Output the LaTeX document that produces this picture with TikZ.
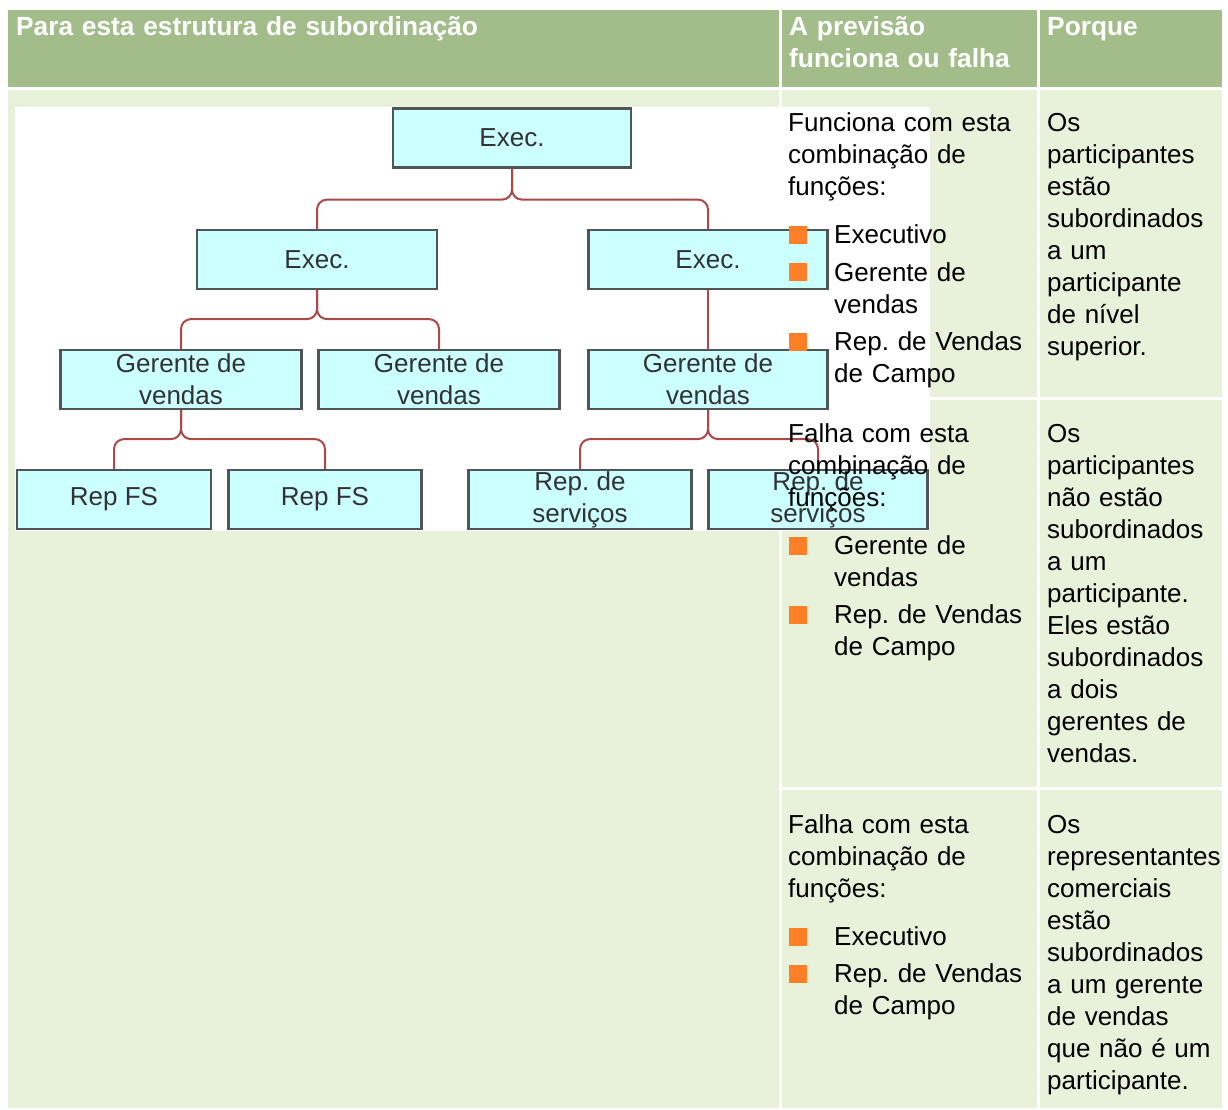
\documentclass[tikz,border=0pt]{standalone}
\usepackage{fontspec}
\setmainfont{Liberation Sans}
\frenchspacing
\definecolor{headgreen}{RGB}{162,189,137}
\definecolor{cellgreen}{RGB}{232,242,218}
\definecolor{boxcyan}{RGB}{204,255,255}
\definecolor{boxgray}{RGB}{80,85,85}
\definecolor{boxtext}{RGB}{50,50,50}
\definecolor{linkred}{RGB}{172,72,72}
\definecolor{bulletorange}{RGB}{255,127,39}

\begin{document}
\begin{tikzpicture}[x=1pt, y=-1pt,
    orgbox/.style={rectangle, draw=boxgray, line width=2.2pt, fill=boxcyan, minimum height=59pt, inner sep=0pt, align=center, text=boxtext, font=\fontsize{26}{32}\selectfont},
    headtext/.style={anchor=base west, inner sep=0pt, text width=700pt, align=left, text=white, font=\fontsize{26.3}{32}\selectfont\bfseries},
    celltext/.style={anchor=base west, inner sep=0pt, text width=260pt, align=left, font=\fontsize{26}{32}\selectfont}
    ]
    \tikzset{edge/.style={draw=linkred, line width=2pt, rounded corners=10pt}}
    \tikzset{bulletsq/.style={rectangle, fill=bulletorange, minimum size=18pt, inner sep=0pt}}
    %
    %table
    %
    \useasboundingbox[fill=white] (0,0) rectangle (1228,1109);
    \fill[headgreen] (8,10) rectangle (779,87);
    \fill[headgreen] (782,10) rectangle (1037,87);
    \fill[headgreen] (1040,10) rectangle (1222,87);
    \fill[cellgreen] (8,90) rectangle (779,1108);
    \fill[cellgreen] (782,90) rectangle (1037,397);
    \fill[cellgreen] (782,400) rectangle (1037,787);
    \fill[cellgreen] (782,790) rectangle (1037,1108);
    \fill[cellgreen] (1040,90) rectangle (1222,397);
    \fill[cellgreen] (1040,400) rectangle (1222,787);
    \fill[cellgreen] (1040,790) rectangle (1222,1108);
    \fill[white] (15,107) rectangle (930,531);
    %
    %vertices
    %
    \node[orgbox, minimum width=238pt] (exec) at (512,138) {Exec.};
    \node[orgbox, minimum width=240pt] (execL) at (317,259.5) {Exec.};
    \node[orgbox, minimum width=239pt] (execR) at (708,259.5) {Exec.};
    \node[orgbox, minimum width=241pt] (gerL) at (181,379.5) {Gerente de\\vendas};
    \node[orgbox, minimum width=241pt] (gerM) at (439,379.5) {Gerente de\\vendas};
    \node[orgbox, minimum width=239pt] (gerR) at (708,379.5) {Gerente de\\vendas};
    \node[orgbox, minimum width=194pt] (fsA) at (114,499.5) {Rep FS};
    \node[orgbox, minimum width=193pt] (fsB) at (325,499.5) {Rep FS};
    \node[orgbox, minimum width=223pt] (srvA) at (580,499.5) {Rep. de\\serviços};
    \node[orgbox, minimum width=219pt] (srvB) at (818,499.5) {Rep. de\\serviços};
    %
    %edges
    %
    \draw[edge] (exec.south) -- ++(0,31) -| (execL.north);
    \draw[edge] (exec.south) -- ++(0,31) -| (execR.north);
    \draw[edge] (execL.south) -- ++(0,29) -| (gerL.north);
    \draw[edge] (execL.south) -- ++(0,29) -| (gerM.north);
    \draw[edge] (execR.south) -- (gerR.north);
    \draw[edge] (gerL.south) -- ++(0,29) -| (fsA.north);
    \draw[edge] (gerL.south) -- ++(0,29) -| (fsB.north);
    \draw[edge] (gerR.south) -- ++(0,29) -| (srvA.north);
    \draw[edge] (gerR.south) -- ++(0,29) -| (srvB.north);
    %
    %header
    %
    \node[headtext] (headA) at (16,35) {Para esta estrutura de subordinação};
    \node[headtext] (headB) at (789,35) {A previsão\\funciona ou falha};
    \node[headtext] (headC) at (1047,35) {Porque};
    %
    %row 1
    %
    \node[celltext] (worksA) at (788,131) {Funciona com esta\\combinação de\\funções:};
    \node[bulletsq] (sqA1) at (798,234.5) {};
    \node[celltext] (itemA1) at (834,243) {Executivo};
    \node[bulletsq] (sqA2) at (798,271.5) {};
    \node[celltext] (itemA2) at (834,281) {Gerente de\\vendas};
    \node[bulletsq] (sqA3) at (798,341.5) {};
    \node[celltext] (itemA3) at (834,350) {Rep. de Vendas\\de Campo};
    \node[celltext] (whyA) at (1047,131) {Os\\participantes\\estão\\subordinados\\a um\\participante\\de nível\\superior.};
    %
    %row 2
    %
    \node[celltext] (failsB) at (788,442) {Falha com esta\\combinação de\\funções:};
    \node[bulletsq] (sqB1) at (798,545.5) {};
    \node[celltext] (itemB1) at (834,554) {Gerente de\\vendas};
    \node[bulletsq] (sqB2) at (798,614.5) {};
    \node[celltext] (itemB2) at (834,623) {Rep. de Vendas\\de Campo};
    \node[celltext] (whyB) at (1047,442) {Os\\participantes\\não estão\\subordinados\\a um\\participante.\\Eles estão\\subordinados\\a dois\\gerentes de\\vendas.};
    %
    %row 3
    %
    \node[celltext] (failsC) at (788,833) {Falha com esta\\combinação de\\funções:};
    \node[bulletsq] (sqC1) at (798,936.5) {};
    \node[celltext] (itemC1) at (834,945) {Executivo};
    \node[bulletsq] (sqC2) at (798,973.5) {};
    \node[celltext] (itemC2) at (834,982) {Rep. de Vendas\\de Campo};
    \node[celltext] (whyC) at (1047,833) {Os\\representantes\\comerciais\\estão\\subordinados\\a um gerente\\de vendas\\que não é um\\participante.};
\end{tikzpicture}
\end{document}
